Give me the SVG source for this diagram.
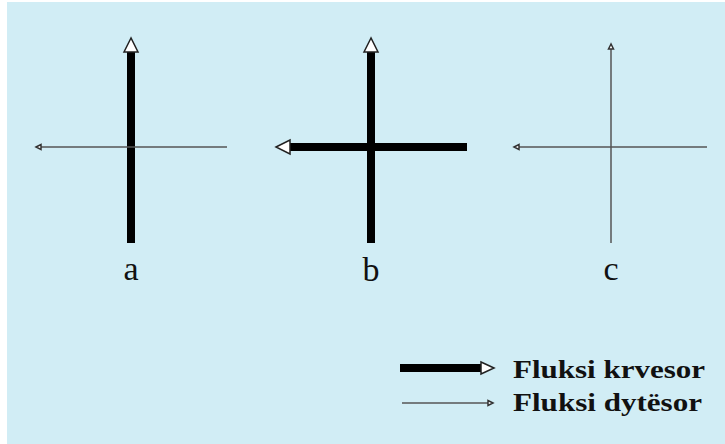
<svg xmlns="http://www.w3.org/2000/svg" width="725" height="444" viewBox="0 0 725 444">
<defs>
<style>
.thick{stroke:#000;stroke-width:8;fill:none}
.thin{stroke:#555;stroke-width:1.5;fill:none}
.big{fill:#fff;stroke:#222;stroke-width:1.5}
.small{fill:#fff;stroke:#333;stroke-width:1.5}
.lbl{font-family:"Liberation Serif",serif;font-size:34px;fill:#111;text-anchor:middle}
.leg{font-family:"Liberation Serif",serif;font-size:26px;font-weight:bold;fill:#111}
</style>
</defs>
<rect x="0" y="0" width="725" height="444" fill="#fff"/>
<rect x="7" y="2" width="718" height="442" fill="#d1edf5"/>
<g id="connectors">
<g id="a">
<line class="thick" x1="131" y1="52" x2="131" y2="243"/>
<polygon class="big" points="131,38 124,52 138,52"/>
<line class="thin" x1="40" y1="147" x2="227" y2="147"/>
<polygon class="small" points="36,147 41,144.5 41,149.5"/>
</g>
<g id="b">
<line class="thick" x1="371" y1="52" x2="371" y2="243"/>
<polygon class="big" points="371,38 364,52 378,52"/>
<line class="thick" x1="290" y1="147" x2="467" y2="147"/>
<polygon class="big" points="276,147 290,140 290,154"/>
</g>
<g id="c">
<line class="thin" x1="611" y1="48" x2="611" y2="243"/>
<polygon class="small" points="611,44 608.5,49 613.5,49"/>
<line class="thin" x1="518" y1="147" x2="707" y2="147"/>
<polygon class="small" points="514,147 519,144.5 519,149.5"/>
</g>
</g>
<g id="labels">
<text class="lbl" x="131" y="280">a</text>
<text class="lbl" x="371" y="281">b</text>
<text class="lbl" x="611" y="280">c</text>
</g>
<g id="legend">
<line class="thick" x1="400" y1="368" x2="481" y2="368"/>
<polygon class="big" points="494,368 481,362 481,374"/>
<text class="leg" x="513" y="378" textLength="192" lengthAdjust="spacingAndGlyphs">Fluksi krvesor</text>
<line class="thin" x1="402" y1="403" x2="489" y2="403"/>
<polygon class="small" points="493,403 488,400.5 488,405.5"/>
<text class="leg" x="513" y="411" textLength="189" lengthAdjust="spacingAndGlyphs">Fluksi dytësor</text>
</g>
</svg>
